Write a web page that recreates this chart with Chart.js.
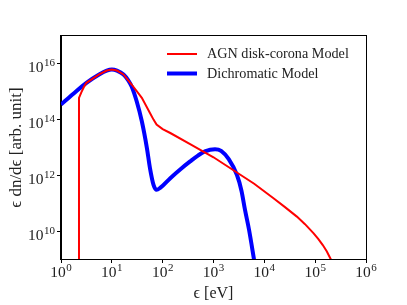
<!DOCTYPE html>
<html><head><meta charset="utf-8">
<script src="https://cdn.jsdelivr.net/npm/chart.js@4/dist/chart.umd.min.js"></script>
<style>html,body{margin:0;padding:0;background:#fff;}#wrap{width:407px;height:305px;}</style>
</head><body><div id="wrap"><canvas id="c" width="407" height="305"></canvas></div>
<script>
// Data (log10 of energy in eV, log10 of eps dn/deps)
const seriesNames = ['AGN disk-corona Model', 'Dichromatic Model'];
const redLogE = [0.354,0.354,0.40,0.45,0.5,0.75,0.9,1.0,1.1,1.23,1.39,1.59,1.75,1.82,1.88,2.0,2.15,2.54,3.0,3.43,3.8,4.18,4.4,4.64,4.8,4.97,5.06,5.15,5.23,5.30,5.36];
const redLogN = [8.5,14.78,14.98,15.17,15.32,15.62,15.76,15.80,15.76,15.62,15.26,14.78,14.24,14.00,13.82,13.66,13.52,13.12,12.65,12.14,11.70,11.18,10.87,10.52,10.25,9.92,9.72,9.50,9.27,9.02,8.8];
const blueLogE = [0.0,0.25,0.5,0.75,0.9,1.0,1.1,1.23,1.32,1.39,1.49,1.59,1.69,1.75,1.82,1.88,1.95,2.15,2.35,2.54,2.7,2.83,3.03,3.15,3.3,3.46,3.55,3.62,3.70,3.80];
const blueLogN = [14.54,14.94,15.32,15.62,15.76,15.80,15.76,15.62,15.42,15.19,14.65,13.94,12.98,12.26,11.66,11.48,11.55,11.90,12.22,12.50,12.72,12.86,12.94,12.88,12.58,12.02,11.45,10.76,10.04,8.95];
const xTickExps = [0,1,2,3,4,5,6];
const yTickExps = [10,12,14,16];
const xRangeExp = [0,6];
const yRangeExp = [9,17];

const toPts = (E,N) => E.map((e,i)=>({x:Math.pow(10,e), y:Math.pow(10,N[i])}));
const FONT = "'Liberation Serif','DejaVu Serif',serif";
const MAIN = "15.5px " + FONT, SUP = "11px " + FONT;

function drawPow(ctx, e, x, baseY, align){
  ctx.font = MAIN; const w1 = ctx.measureText('10').width;
  ctx.font = SUP; const w2 = ctx.measureText(String(e)).width;
  const tot = w1 + w2 + 0.5;
  let x0 = align === 'right' ? x - tot : x - tot/2;
  ctx.textAlign = 'left'; ctx.textBaseline = 'alphabetic';
  ctx.font = MAIN; ctx.fillText('10', x0, baseY);
  ctx.font = SUP; ctx.fillText(String(e), x0 + w1 + 0.5, baseY - 6);
}

const decorPlugin = {
  id:'decor',
  afterDraw(chart){
    const ctx = chart.ctx, a = chart.chartArea;
    ctx.save();
    // legend
    const items = [{c:'#ff0000', w:2, t:seriesNames[0], y:54},{c:'#0000ff', w:4, t:seriesNames[1], y:73.5}];
    items.forEach(it=>{
      ctx.strokeStyle = it.c; ctx.lineWidth = it.w; ctx.lineCap='butt';
      ctx.beginPath(); ctx.moveTo(167, it.y); ctx.lineTo(197, it.y); ctx.stroke();
      ctx.fillStyle = '#222'; ctx.font = "14.2px " + FONT; ctx.textBaseline='middle'; ctx.textAlign='left';
      ctx.fillText(it.t, 207, it.y+0.5);
    });
    // frame
    ctx.strokeStyle = '#000'; ctx.lineWidth = 1;
    ctx.strokeRect(a.left-0.5, a.top-0.5, a.right-a.left+1, a.bottom-a.top+1);
    // tick labels with superscripts
    ctx.fillStyle = '#222';
    const xs = chart.scales.x, ys = chart.scales.y;
    xTickExps.forEach(e=>{ drawPow(ctx, e, xs.getPixelForValue(Math.pow(10,e)), a.bottom + 18, 'center'); });
    yTickExps.forEach(e=>{ drawPow(ctx, e, a.left - 6, ys.getPixelForValue(Math.pow(10,e)) + 8.5, 'right'); });
    ctx.restore();
  }
};

new Chart(document.getElementById('c'), {
  type:'line',
  data:{ datasets:[
    {label:seriesNames[0], data:toPts(redLogE, redLogN), borderColor:'#ff0000', borderWidth:2, pointRadius:0, tension:0, fill:false, clip:0},
    {label:seriesNames[1], data:toPts(blueLogE, blueLogN), borderColor:'#0000ff', borderWidth:4, pointRadius:0, cubicInterpolationMode:'monotone', fill:false, clip:0}
  ]},
  options:{
    responsive:false, animation:false, devicePixelRatio:1,
    layout:{padding:{top:36, right:41, left:0, bottom:0}},
    plugins:{legend:{display:false}, tooltip:{enabled:false}},
    scales:{
      x:{type:'logarithmic', min:Math.pow(10,xRangeExp[0]), max:Math.pow(10,xRangeExp[1]),
        afterBuildTicks(s){ s.ticks = xTickExps.map(e=>({value:Math.pow(10,e)})); },
        afterFit(s){ s.height = 46; },
        ticks:{display:false},
        grid:{drawOnChartArea:false, drawTicks:true, tickLength:4, color:'#000'},
        border:{display:true, color:'#000'},
        title:{display:true, text:'ϵ [eV]', color:'#222', font:{family:FONT, size:16}, padding:{top:0,bottom:2}}
      },
      y:{type:'logarithmic', min:Math.pow(10,yRangeExp[0]), max:Math.pow(10,yRangeExp[1]),
        afterBuildTicks(s){ s.ticks = yTickExps.map(e=>({value:Math.pow(10,e)})); },
        afterFit(s){ s.width = 61; },
        ticks:{display:false},
        grid:{drawOnChartArea:false, drawTicks:true, tickLength:4, color:'#000'},
        border:{display:true, color:'#000'},
        title:{display:true, text:'ϵ dn/dϵ [arb. unit]', color:'#222', font:{family:FONT, size:17}, padding:{top:6,bottom:0}}
      }
    }
  },
  plugins:[decorPlugin]
});
</script></body></html>
